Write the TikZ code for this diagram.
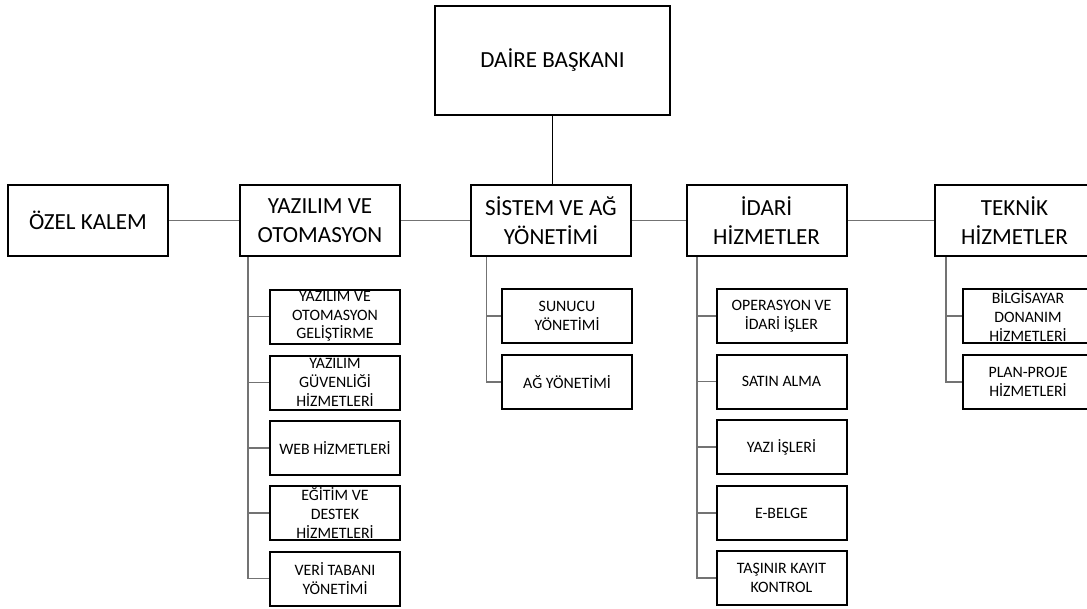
\documentclass[tikz,border=0pt]{standalone}
\usepackage{fontspec}
\setmainfont{Carlito}
\usepackage{tikz}

\begin{document}
\begin{tikzpicture}[x=.75pt,y=-.75pt,line width=1.5pt,
  ust/.style={draw,align=center,inner sep=0pt,minimum width=120pt,minimum height=53.25pt,font=\fontsize{17.3}{21.5}\selectfont},
  alt/.style={draw,align=center,inner sep=0pt,minimum width=97.5pt,minimum height=40.5pt,font=\fontsize{11.9}{14}\selectfont},
  link/.style={draw=black!55,line width=1pt}]
\useasboundingbox (0,0) rectangle (1087,608);
% ust birimler
\node[ust,minimum width=176.25pt,minimum height=81.75pt] (dbsk) at (552.5,60.5) {DAİRE BAŞKANI};
\node[ust] (ozel) at (88,220.5) {ÖZEL KALEM};
\node[ust] (yaz) at (320,220.5) {YAZILIM VE\\OTOMASYON};
\node[ust] (sis) at (551,220.5) {SİSTEM VE AĞ\\YÖNETİMİ};
\node[ust] (ida) at (766.5,220.5) {İDARİ\\HİZMETLER};
\node[ust] (tek) at (1014.5,220.5) {TEKNİK\\HİZMETLER};
\draw[link,black] (dbsk.south) -- (dbsk.south |- sis.north);
\draw[link] (ozel)--(yaz);\draw[link] (yaz)--(sis);\draw[link] (sis)--(ida);\draw[link] (ida)--(tek);
% alt birimler
\node[alt] (y1) at (335,316.5) {YAZILIM VE\\OTOMASYON\\GELİŞTİRME};
\node[alt] (y2) at (335,382.5) {YAZILIM\\GÜVENLİĞİ\\HİZMETLERİ};
\node[alt] (y3) at (335,448) {WEB HİZMETLERİ};
\node[alt] (y4) at (335,513) {EĞİTİM VE\\DESTEK\\HİZMETLERİ};
\node[alt] (y5) at (335,578.5) {VERİ TABANI\\YÖNETİMİ};
\node[alt] (s1) at (567,316) {SUNUCU\\YÖNETİMİ};
\node[alt] (s2) at (567,382) {AĞ YÖNETİMİ};
\node[alt] (i1) at (781.5,316) {OPERASYON VE\\İDARİ İŞLER};
\node[alt] (i2) at (781.5,381.5) {SATIN ALMA};
\node[alt] (i3) at (781.5,447) {YAZI İŞLERİ};
\node[alt] (i4) at (781.5,513) {E-BELGE};
\node[alt] (i5) at (781.5,578) {TAŞINIR KAYIT\\KONTROL};
\node[alt] (t1) at (1028,316) {BİLGİSAYAR\\DONANIM\\HİZMETLERİ};
\node[alt] (t2) at (1028,382) {PLAN-PROJE\\HİZMETLERİ};
% baglantilar
\coordinate (yk) at (248,0);\coordinate (sk) at (486.5,0);\coordinate (ik) at (697,0);\coordinate (tk) at (946,0);
\draw[link] (yk |- yaz.south) |- (y5.west);
\draw[link] (yk |- y1) -- (y1.west);\draw[link] (yk |- y2) -- (y2.west);\draw[link] (yk |- y3) -- (y3.west);\draw[link] (yk |- y4) -- (y4.west);
\draw[link] (sk |- sis.south) |- (s2.west);\draw[link] (sk |- s1) -- (s1.west);
\draw[link] (ik |- ida.south) |- (i5.west);
\draw[link] (ik |- i1) -- (i1.west);\draw[link] (ik |- i2) -- (i2.west);\draw[link] (ik |- i3) -- (i3.west);\draw[link] (ik |- i4) -- (i4.west);
\draw[link] (tk |- tek.south) |- (t2.west);\draw[link] (tk |- t1) -- (t1.west);
\end{tikzpicture}
\end{document}
